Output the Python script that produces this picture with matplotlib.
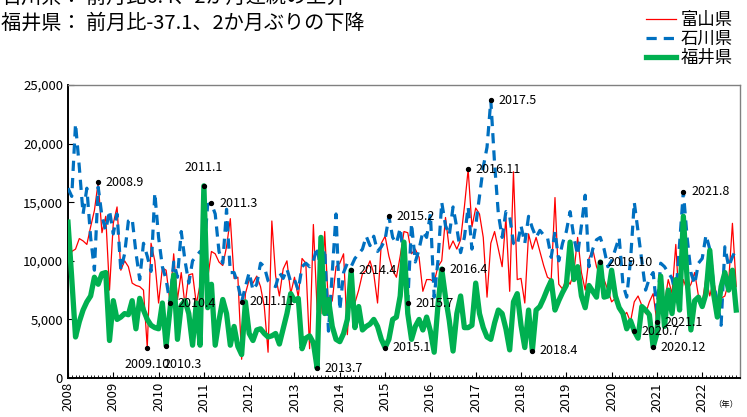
import numpy as np
import matplotlib
matplotlib.use("Agg")
import matplotlib.pyplot as plt
from matplotlib.ticker import FuncFormatter, MultipleLocator
from matplotlib.lines import Line2D

plt.rcParams['font.family'] = ['Noto Sans CJK JP', 'DejaVu Sans']

# 月次データ 2008年1月～2022年10月
toyama = [
    9400, 10800, 11000, 11900, 11700, 11400, 12900, 14300, 16700, 12400, 13800, 7500,
    13200, 14600, 9200, 10000, 9500, 8100, 7900, 7800, 7500, 2600, 11500, 10000,
    6400, 9400, 9200, 6500, 10600, 6700, 9000, 6200, 8800, 8900, 6300, 8000,
    8200, 8500, 10800, 10600, 9900, 9600, 11200, 13600, 8500, 8600, 1600, 7200,
    8400, 8100, 8700, 7800, 6100, 2200, 13400, 8700, 7000, 9300, 10000, 7200,
    8600, 6900, 10200, 9800, 2500, 13100, 5800, 5500, 12500, 6100, 6600, 9500,
    9800, 10600, 3700, 8600, 6400, 7500, 8900, 9200, 10000, 8900, 6400, 11500,
    12100, 10400, 9200, 8600, 10400, 12500, 12400, 10600, 11000, 10300, 7400, 8400,
    8400, 8200, 9500, 10000, 13700, 11000, 11700, 11000, 11800, 14600, 17800, 12900,
    14500, 14000, 12000, 6900, 11500, 12500, 11000, 9500, 13700, 7400, 17600, 8400,
    8500, 6400, 12300, 11000, 12000, 10800, 9600, 8600, 8400, 15400, 8000, 7600,
    8500, 8000, 9000, 12000, 9000, 7500, 10200, 11000, 9500, 8700, 8400, 7500,
    6500, 6800, 6000, 5200, 5600, 4800, 6500, 7000, 6200, 5500, 6500, 7200,
    4750, 7800, 6400, 8400, 7200, 11400, 5800, 8400, 7500, 8000, 9000, 7000,
    6400, 8600, 7000, 8300, 6800, 6800, 7000, 8200, 13200, 7800,
]
ishikawa = [
    16200, 15500, 21700, 18000, 14000, 16200, 12000, 9200, 16300, 13800, 12600, 14300,
    12300, 14000, 9200, 10600, 13400, 13600, 10700, 8400, 11500, 10400, 9100, 15800,
    12000, 9500, 8400, 6400, 9900, 8600, 12500, 10000, 8100, 10000, 10400, 10800,
    10500, 14800, 14900, 14000, 10800, 9800, 14400, 9000, 9000, 8000, 6500, 7800,
    9000, 7500, 8000, 9800, 9500, 8300, 8000, 7800, 9000, 8500, 9300, 8200,
    8400, 7500, 9500, 9800, 9500, 10000, 11200, 9000, 11000, 4000, 9000, 14000,
    5800, 9000, 9800, 9500, 10200, 10600, 11000, 12100, 11300, 12100, 10800, 11200,
    11800, 13800, 12000, 11500, 12800, 10000, 6400, 13200, 9900, 11000, 12500, 12000,
    14000, 6900, 10000, 15000, 13000, 12200, 14600, 12800, 10700, 12000, 14600, 11000,
    13000, 15500, 18000, 19700, 23700, 18300, 14000, 12000, 14200, 13800, 11500, 11300,
    13000, 11500, 13800, 12800, 12000, 12600, 12200, 12000, 10300, 12500, 10000, 11500,
    12500, 14200, 12000, 10500, 13000, 15600, 9500, 11000, 11800, 12000, 11000, 9500,
    10000, 11000, 12000, 8000, 6900, 10000, 15000, 12500, 10000, 7500, 8500, 9000,
    5800, 9800, 9500, 9000, 8500, 7000, 11500, 15900, 12000, 9000, 8000, 9800,
    10200, 12200, 11000, 8000, 6500, 4500, 11200, 9500, 10340, 11000,
]
fukui = [
    13300, 8500, 3500, 4800, 5800, 6500, 7000, 8600, 8000, 8900, 9000, 3200,
    6600, 5000, 5200, 5500, 5400, 6600, 4200, 6800, 5800, 5000, 4500, 4300,
    4200, 6400, 2760, 5800, 8800, 3300, 6200, 6600, 5500, 2800, 6400, 2800,
    16400, 6000, 8000, 2800, 4900, 6700, 5500, 2800, 4400, 2700, 2000, 6500,
    3800, 3200, 4100, 4200, 3800, 3500, 3600, 3800, 2900, 4200, 5500, 7200,
    6600, 6800, 2500, 3400, 3600, 3000, 830, 12000, 5500, 6700, 4400, 3300,
    3100, 3800, 5000, 9200, 4300, 6100, 4100, 4400, 4600, 5000, 4400, 3300,
    2600, 3300, 5000, 5200, 7000, 11600, 5500, 3300, 4400, 5000, 4100, 5200,
    4000, 2200, 6200, 9300, 6900, 4900, 2300, 5500, 7000, 4300, 4300, 4500,
    8100, 5500, 4300, 3500, 3300, 4700, 5800, 5500, 4200, 2400, 6500, 7200,
    4500, 2600, 5800, 2330, 5800, 6100, 6800, 7600, 8300, 5800, 6600, 7300,
    7900, 11600, 8400, 9500, 7000, 6000, 7900, 7400, 6900, 9900, 6900, 7000,
    9200, 7000, 6000, 5500, 4200, 4900, 4000, 3400, 6100, 5800, 5400, 2640,
    3800, 8700, 4400, 7500, 5500, 8400, 5800, 13800, 8400, 4100, 6600, 6900,
    6100, 7200, 10900, 7200, 5200, 7800, 9000, 7500, 9200, 5800,
]
years = list(range(2008, 2023))

# 注記 (ラベル, 系列)
notes = [
    ("2008.9", "toyama"), ("2009.10", "toyama"), ("2010.3", "fukui"),
    ("2010.4", "ishikawa"), ("2011.1", "fukui"), ("2011.3", "ishikawa"),
    ("2011.11", "ishikawa"), ("2013.7", "fukui"), ("2014.4", "fukui"),
    ("2015.1", "fukui"), ("2015.2", "ishikawa"), ("2015.7", "ishikawa"),
    ("2016.4", "fukui"), ("2016.11", "toyama"), ("2017.5", "ishikawa"),
    ("2018.4", "fukui"), ("2019.10", "fukui"), ("2020.7", "fukui"),
    ("2020.12", "fukui"), ("2021.1", "toyama"), ("2021.8", "ishikawa"),
]

series = {"toyama": toyama, "ishikawa": ishikawa, "fukui": fukui}
x = np.arange(len(toyama))

fig = plt.figure(figsize=(7.47, 4.17), dpi=100)
ax = fig.add_axes([0.091, 0.0935, 0.8996, 0.7025])

ax.plot(x, toyama, color="#FF0000", lw=0.9, label="富山県", zorder=2)
ax.plot(x, ishikawa, color="#0070C0", lw=2.3, dashes=(3.2, 2.2), label="石川県", zorder=3)
ax.plot(x, fukui, color="#00B050", lw=3.8, label="福井県", zorder=4,
        solid_joinstyle="round")

for lab, key in notes:
    yy, mm = lab.split(".")
    i = (int(yy) - 2008) * 12 + int(mm) - 1
    v = series[key][i]
    ax.plot(i, v, "o", color="black", ms=2.8, zorder=6)
    if lab == "2009.10":
        off, ha, va = (0, -12), "center", "center"
    elif lab == "2010.3":
        off, ha, va = (-2, -13.5), "left", "center"
    elif lab == "2011.1":
        off, ha, va = (0, 13), "center", "center"
    else:
        off, ha, va = (5.5, 0), "left", "center"
    ax.annotate(lab, (i, v), xytext=off, textcoords="offset points",
                ha=ha, va=va, fontsize=9, zorder=7)

ax.set_xlim(0, 178)
ax.set_ylim(0, 25000)
ax.yaxis.set_major_locator(MultipleLocator(5000))
ax.yaxis.set_major_formatter(FuncFormatter(lambda v, p: f"{int(v):,}"))
ax.set_xticks([(y - 2008) * 12 for y in years])
ax.set_xticklabels([str(y) for y in years], rotation=90)
ax.xaxis.set_minor_locator(MultipleLocator(1))
ax.tick_params(axis="both", which="major", direction="in", labelsize=9.5, length=4)
ax.tick_params(axis="x", which="minor", direction="in", length=2.5)
ax.tick_params(axis="x", which="major", pad=3)

for s in ["left", "bottom"]:
    ax.spines[s].set_color("black")
    ax.spines[s].set_linewidth(1.4)
for s in ["top", "right"]:
    ax.spines[s].set_color("#808080")
    ax.spines[s].set_linewidth(1.0)

fig.text(0.002, 1 + 3 / 417, "石川県： 前月比6.4、2か月連続の上昇", fontsize=14.5,
         ha="left", va="center")
fig.text(0.002, 1 - 23 / 417, "福井県： 前月比-37.1、2か月ぶりの下降", fontsize=14.5,
         ha="left", va="center")
fig.text(0.972, 0.03, "（年）", fontsize=6, ha="center", va="center")

handles = [
    Line2D([], [], color="#FF0000", lw=0.9),
    Line2D([], [], color="#0070C0", lw=2.3, dashes=(3.2, 2.2)),
    Line2D([], [], color="#00B050", lw=3.8),
]
fig.legend(handles, ["富山県", "石川県", "福井県"], loc="upper right",
           bbox_to_anchor=(0.995, 0.998), frameon=False, fontsize=12.5,
           handlelength=1.7, handletextpad=0.3, labelspacing=0.05,
           borderaxespad=0.2)

fig.savefig("out.png", dpi=100)
